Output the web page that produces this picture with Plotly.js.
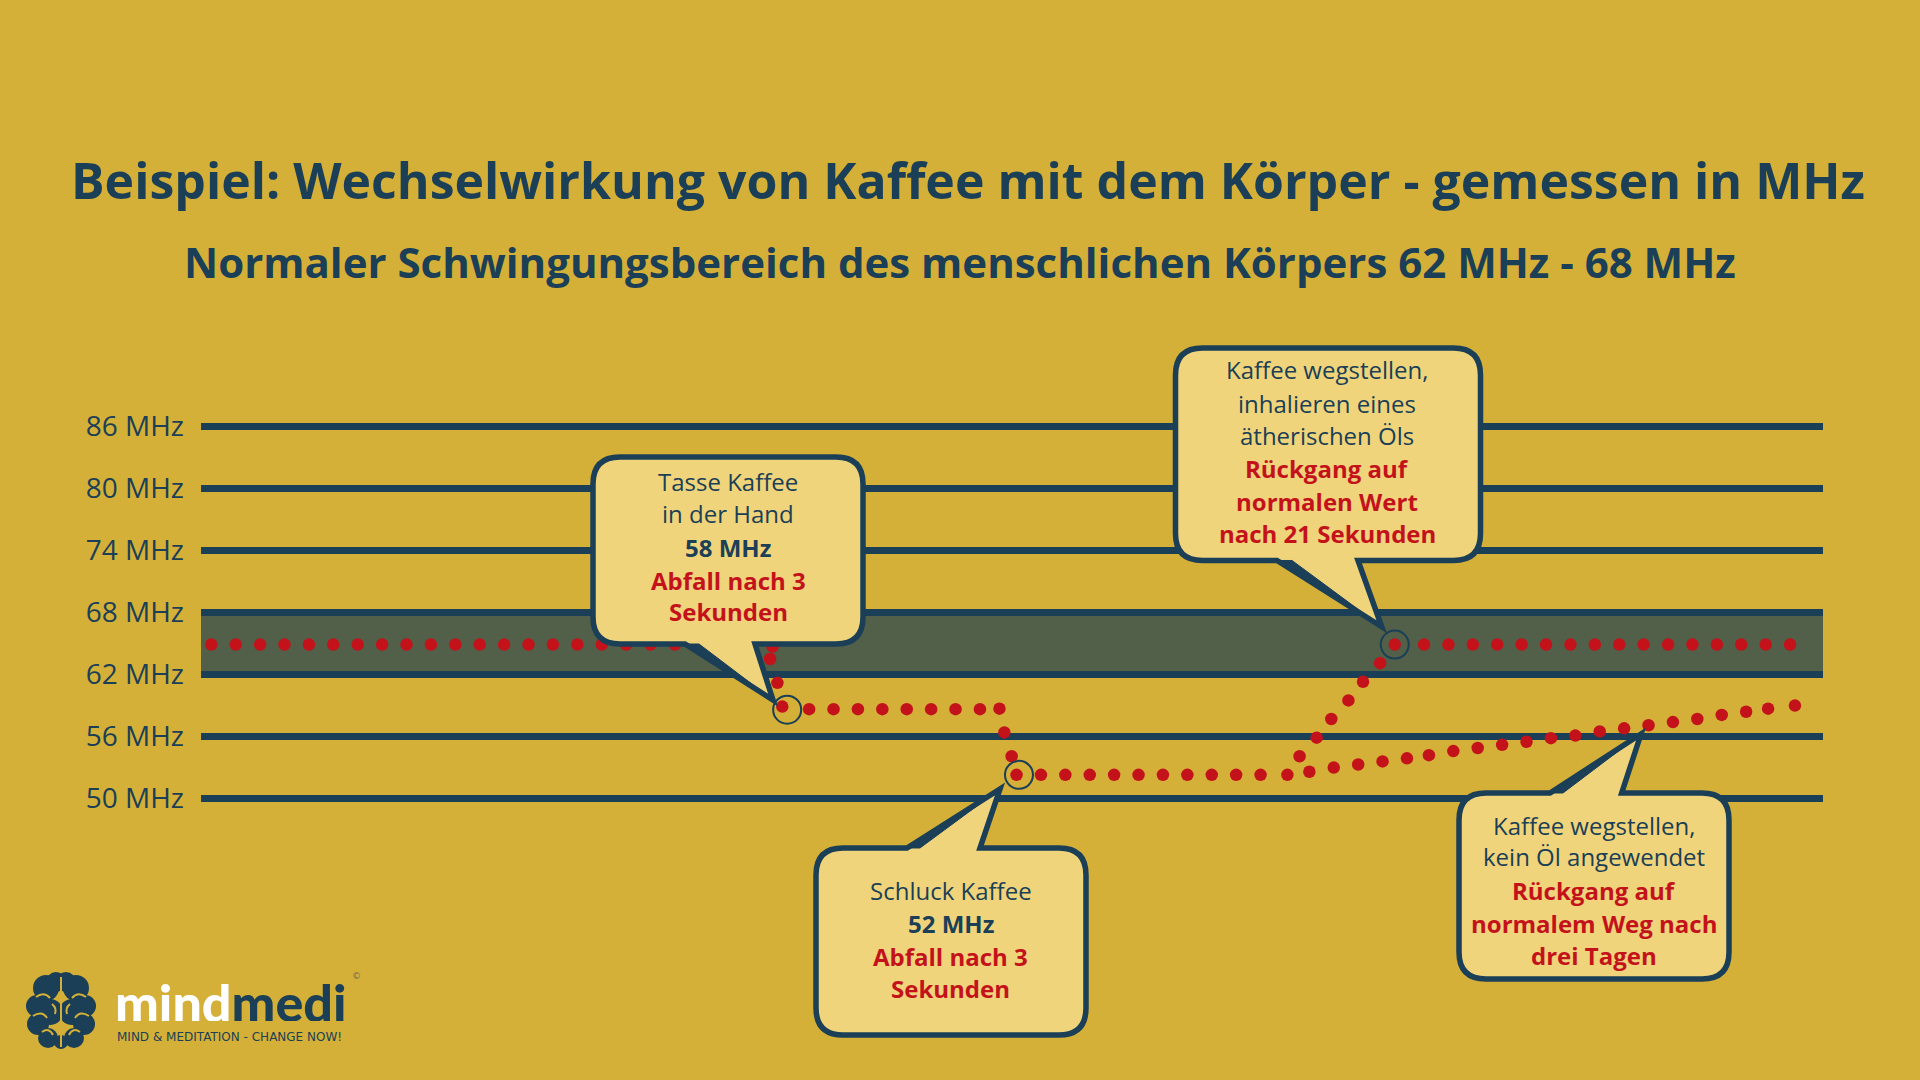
<!DOCTYPE html>
<html>
<head>
<meta charset="utf-8">
<script src="https://cdn.plot.ly/plotly-3.0.1.min.js"></script>
<style>html,body{margin:0;padding:0;background:#D4B038;}#chart{width:1920px;height:1080px;}</style>
</head>
<body>
<div id="chart"></div>
<script>
// ---------- DATA ----------
const tickValues = [50, 56, 62, 68, 74, 80, 86];
const tickLabels = ['50 MHz', '56 MHz', '62 MHz', '68 MHz', '74 MHz', '80 MHz', '86 MHz'];
const normalBand = [62, 68];

// Before the coffee (normal range)
const vorherX = [0, 1, 2, 3, 4, 5, 6, 7, 8, 9, 10, 11, 12, 13, 14, 15, 16, 17, 18, 19, 20, 21, 22, 23.0];
const vorherY = [64.9, 64.9, 64.9, 64.9, 64.9, 64.9, 64.9, 64.9, 64.9, 64.9, 64.9, 64.9, 64.9, 64.9, 64.9, 64.9, 64.9, 64.9, 64.9, 64.9, 64.9, 64.9, 64.9, 64.7];
// Cup of coffee in the hand
const tasseX = [22.9, 23.2, 23.4, 24.5, 25.5, 26.5, 27.5, 28.5, 29.5, 30.5, 31.5, 32.3];
const tasseY = [63.5, 61.2, 58.9, 58.65, 58.65, 58.65, 58.65, 58.65, 58.65, 58.65, 58.65, 58.7];
// Sip of coffee
const schluckX = [32.5, 32.8, 33.0, 34, 35, 36, 37, 38, 39, 40, 41, 42, 43, 44.1];
const schluckY = [56.4, 54.1, 52.3, 52.3, 52.3, 52.3, 52.3, 52.3, 52.3, 52.3, 52.3, 52.3, 52.3, 52.3];
// Essential oil inhaled
const oelX = [44.6, 45.3, 45.9, 46.6, 47.2, 47.9, 48.5, 49.7, 50.7, 51.7, 52.7, 53.7, 54.7, 55.7, 56.7, 57.7, 58.7, 59.7, 60.7, 61.7, 62.7, 63.7, 64.7];
const oelY = [54.1, 55.9, 57.7, 59.5, 61.3, 63.1, 64.9, 64.9, 64.9, 64.9, 64.9, 64.9, 64.9, 64.9, 64.9, 64.9, 64.9, 64.9, 64.9, 64.9, 64.9, 64.9, 64.9];
// No oil used
const ohneOelX = [45.0, 46.0, 47.0, 48.0, 49.0, 49.9, 50.9, 51.9, 52.9, 53.9, 54.9, 55.9, 56.9, 57.9, 58.9, 59.9, 60.9, 61.9, 62.9, 63.8, 64.9];
const ohneOelY = [52.6, 53.0, 53.3, 53.6, 53.9, 54.2, 54.6, 54.9, 55.2, 55.5, 55.85, 56.1, 56.5, 56.8, 57.1, 57.4, 57.7, 58.1, 58.4, 58.7, 59.0];
// Highlighted points
const markX = [23.6, 33.1, 48.5];
const markY = [58.6, 52.3, 64.9];

// Bubble texts: [text, style]  r = regular, b = bold navy, x = bold red
const bubble1Text = [['Tasse Kaffee', 'r'], ['in der Hand', 'r'], ['58 MHz', 'b'], ['Abfall nach 3', 'x'], ['Sekunden', 'x']];
const bubble2Text = [['Schluck Kaffee', 'r'], ['52 MHz', 'b'], ['Abfall nach 3', 'x'], ['Sekunden', 'x']];
const bubble3Text = [['Kaffee wegstellen,', 'r'], ['inhalieren eines', 'r'], ['ätherischen Öls', 'r'], ['Rückgang auf', 'x'], ['normalen Wert', 'x'], ['nach 21 Sekunden', 'x']];
const bubble4Text = [['Kaffee wegstellen,', 'r'], ['kein Öl angewendet', 'r'], ['Rückgang auf', 'x'], ['normalem Weg nach', 'x'], ['drei Tagen', 'x']];

const titleText = 'Beispiel: Wechselwirkung von Kaffee mit dem Körper - gemessen in MHz';
const subtitleText = 'Normaler Schwingungsbereich des menschlichen Körpers 62 MHz - 68 MHz';

// ---------- STYLE ----------
const BG = '#D4B038', NAVY = '#1B3F56', RED = '#C4121B', BAND = '#525F49', BUB = '#EFD47B';
const FONT = 'Open Sans, Noto Sans, sans-serif';
const PL = 201, PR = 1823, PT = 385, PB = 840;
function px(x) { return (x - PL) / (PR - PL); }
function py(y) { return (PB - y) / (PB - PT); }
function pt(x, y) { return px(x).toFixed(5) + ',' + py(y).toFixed(5); }

function bubble(L, T, R, B, r, tl) {
  let d = 'M' + pt(L + r, T);
  if (tl.side === 'top') d += ' L' + pt(tl.a, T) + ' L' + pt(tl.tx, tl.ty) + ' L' + pt(tl.b, T);
  d += ' L' + pt(R - r, T) + ' Q' + pt(R, T) + ' ' + pt(R, T + r) + ' L' + pt(R, B - r) + ' Q' + pt(R, B) + ' ' + pt(R - r, B);
  if (tl.side === 'bottom') d += ' L' + pt(tl.b, B) + ' L' + pt(tl.tx, tl.ty) + ' L' + pt(tl.a, B);
  d += ' L' + pt(L + r, B) + ' Q' + pt(L, B) + ' ' + pt(L, B - r) + ' L' + pt(L, T + r) + ' Q' + pt(L, T) + ' ' + pt(L + r, T) + ' Z';
  const edge = tl.side === 'top' ? T : B;
  const wedge = 'M' + pt(tl.a - 2, edge) + ' L' + pt(tl.a + tl.w, edge) + ' L' + pt(tl.tx, tl.ty) + ' Z';
  return [
    {type: 'path', xref: 'paper', yref: 'paper', path: d, fillcolor: BUB, line: {color: NAVY, width: 5.5}, layer: 'above'},
    {type: 'path', xref: 'paper', yref: 'paper', path: wedge, fillcolor: NAVY, line: {color: NAVY, width: 1}, layer: 'above'}
  ];
}

function bubbleText(lines, cx, ys) {
  return lines.map((ln, i) => ({
    xref: 'paper', yref: 'paper', x: px(cx), y: py(ys[i] - 1.5), xanchor: 'center', yanchor: 'middle',
    showarrow: false, text: ln[0],
    font: {family: FONT, size: 24, color: ln[1] === 'x' ? RED : NAVY, weight: ln[1] === 'r' ? 400 : 700}
  }));
}

// ---------- TRACES ----------
const dotMarker = {color: RED, size: 12.5, line: {width: 0}};
const traces = [
  {x: vorherX, y: vorherY, mode: 'markers', type: 'scatter', name: 'Vorher', marker: dotMarker, hoverinfo: 'skip'},
  {x: tasseX, y: tasseY, mode: 'markers', type: 'scatter', name: 'Tasse Kaffee', marker: dotMarker, hoverinfo: 'skip'},
  {x: schluckX, y: schluckY, mode: 'markers', type: 'scatter', name: 'Schluck Kaffee', marker: dotMarker, hoverinfo: 'skip'},
  {x: oelX, y: oelY, mode: 'markers', type: 'scatter', name: 'Mit Öl', marker: dotMarker, hoverinfo: 'skip'},
  {x: ohneOelX, y: ohneOelY, mode: 'markers', type: 'scatter', name: 'Ohne Öl', marker: dotMarker, hoverinfo: 'skip'},
  {x: markX, y: markY, mode: 'markers', type: 'scatter', name: 'Markierung',
   marker: {symbol: 'circle-open', size: 28, color: NAVY, line: {width: 2, color: NAVY}}, hoverinfo: 'skip'}
];

// ---------- SHAPES ----------
let shapes = [
  {type: 'rect', xref: 'paper', yref: 'y', x0: 0, x1: 1, y0: normalBand[0], y1: normalBand[1], fillcolor: BAND, line: {width: 0}, layer: 'below'}
];
shapes = shapes.concat(
  bubble(593, 457, 863, 644, 27, {side: 'bottom', a: 685, b: 755, tx: 773, ty: 700, w: 14}),
  bubble(816, 848, 1086, 1035, 27, {side: 'top', a: 907, b: 980, tx: 1000, ty: 789, w: 13}),
  bubble(1175.5, 348, 1480.5, 560.5, 27, {side: 'bottom', a: 1277, b: 1358, tx: 1381.7, ty: 626.7, w: 15}),
  bubble(1459, 793, 1729, 979, 27, {side: 'top', a: 1550, b: 1621.7, tx: 1641, ty: 734, w: 13})
);

// brain logo (decorative)
function circ(cx, cy, r, color) {
  return {type: 'circle', xref: 'paper', yref: 'paper', x0: px(cx - r), x1: px(cx + r), y0: py(cy + r), y1: py(cy - r),
          fillcolor: color, line: {width: 0}, layer: 'above'};
}
const brainLobes = [[46, 988, 13], [76, 988, 13], [37, 1006, 11], [85, 1006, 11], [38, 1024, 11], [84, 1024, 11],
                    [48, 1038, 10], [74, 1038, 10], [56, 982, 10], [66, 982, 10], [61, 1042, 7], [50, 1012, 13], [72, 1012, 13]];
brainLobes.forEach(b => shapes.push(circ(b[0], b[1], b[2], NAVY)));
shapes.push({type: 'path', xref: 'paper', yref: 'paper', layer: 'above', line: {color: BG, width: 2},
  path: 'M' + pt(61, 977) + ' L' + pt(61, 1047)});
const brainCurves = [
  [[36, 997], [44, 991], [50, 998]], [[86, 997], [78, 991], [72, 998]],
  [[33, 1016], [42, 1010], [47, 1018]], [[89, 1016], [80, 1010], [75, 1018]],
  [[42, 1032], [49, 1027], [53, 1035]], [[80, 1032], [73, 1027], [69, 1035]],
  [[52, 1004], [57, 1008], [55, 1014]], [[70, 1004], [65, 1008], [67, 1014]]
];
brainCurves.forEach(c => shapes.push({type: 'path', xref: 'paper', yref: 'paper', layer: 'above', line: {color: BG, width: 2},
  path: 'M' + pt(c[0][0], c[0][1]) + ' Q' + pt(c[1][0], c[1][1]) + ' ' + pt(c[2][0], c[2][1])}));

// ---------- ANNOTATIONS ----------
let annotations = [
  {xref: 'paper', yref: 'paper', x: px(960), y: py(261), xanchor: 'center', yanchor: 'middle', showarrow: false,
   text: subtitleText, font: {family: FONT, size: 42, color: NAVY, weight: 700}},
  {xref: 'paper', yref: 'paper', x: px(113), y: py(1002), xanchor: 'left', yanchor: 'middle', showarrow: false,
   height: 38, valign: 'middle',
   text: '<span style="color:#FFFFFF">mind</span><span style="color:' + NAVY + '">medi</span>',
   font: {family: 'Lato, Roboto, sans-serif', size: 52, color: NAVY, weight: 900}},
  {xref: 'paper', yref: 'paper', x: px(115), y: py(1036), xanchor: 'left', yanchor: 'middle', showarrow: false,
   height: 13, valign: 'middle',
   text: 'MIND & MEDITATION - CHANGE NOW!', font: {family: 'DejaVu Sans, sans-serif', size: 12, color: NAVY}},
  {xref: 'paper', yref: 'paper', x: px(356), y: py(976), xanchor: 'center', yanchor: 'middle', showarrow: false,
   text: '©', font: {family: 'DejaVu Sans, sans-serif', size: 9, color: '#6b6a55'}}
];
annotations = annotations.concat(
  bubbleText(bubble1Text, 728.3, [483.3, 515, 549.3, 581.7, 613.3]),
  bubbleText(bubble2Text, 950.7, [891.7, 925, 958.3, 990]),
  bubbleText(bubble3Text, 1327, [370.7, 405, 437.3, 470, 503.3, 535]),
  bubbleText(bubble4Text, 1594, [826.7, 858.3, 891.7, 925, 956.7])
);

const layout = {
  width: 1920, height: 1080, autosize: false,
  paper_bgcolor: BG, plot_bgcolor: BG,
  margin: {l: PL, r: 1920 - PR, t: PT, b: 1080 - PB, pad: 0},
  showlegend: false,
  title: {text: titleText, x: 968 / 1920, xanchor: 'center', xref: 'container', y: 1 - 181 / 1080, yanchor: 'middle', yref: 'container',
          font: {family: FONT, size: 50, color: NAVY, weight: 700}},
  xaxis: {range: [-0.422, 66.05], visible: false, showgrid: false, zeroline: false, fixedrange: true},
  yaxis: {range: [46, 90], tickmode: 'array', tickvals: tickValues, ticktext: tickLabels,
          showgrid: true, gridcolor: NAVY, gridwidth: 7, zeroline: false, showline: false, ticks: '',
          ticklabelstandoff: 16, tickfont: {family: FONT, size: 28, color: NAVY}, fixedrange: true},
  shapes: shapes,
  annotations: annotations
};

Plotly.newPlot('chart', traces, layout, {displayModeBar: false, staticPlot: true});
</script>
</body>
</html>
